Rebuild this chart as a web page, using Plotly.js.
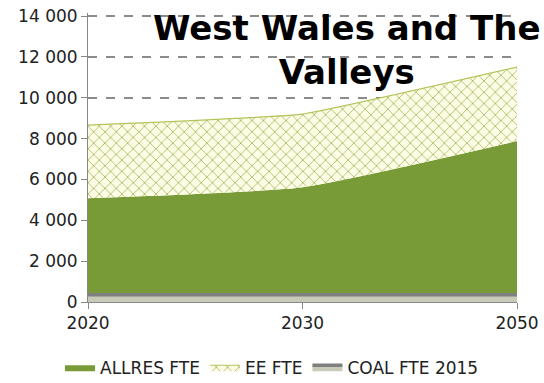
<!DOCTYPE html>
<html><head><meta charset="utf-8">
<script src="https://cdn.plot.ly/plotly-3.0.1.min.js"></script>
<style>html,body{margin:0;padding:0;background:#fff}#chart{width:544px;height:383px}</style>
</head><body><div id="chart"></div>
<script>
const years = ['2020', '2030', '2050'];
const allres = [5080, 5620, 7880];
const ee = [3580, 3580, 3620];
const coal = [350, 350, 350];
const yTicks = [0, 2000, 4000, 6000, 8000, 10000, 12000, 14000];

const font = 'DejaVu Sans, Verdana, sans-serif';
const data = [
  {x: years, y: allres, name: 'ALLRES FTE', type: 'scatter', mode: 'lines', stackgroup: 'a',
   line: {color: '#789b38', width: 0, shape: 'spline', smoothing: 0.5}, fillcolor: '#789b38'},
  {x: years, y: ee, name: 'EE FTE', type: 'scatter', mode: 'lines', stackgroup: 'a',
   line: {color: '#b5c45a', width: 1.2, shape: 'spline', smoothing: 0.3},
   fillcolor: '#fdfde6',
   fillpattern: {shape: 'x', fgcolor: '#a9b765', bgcolor: '#fdfde6', size: 8, solidity: 0.2}},
  {x: years, y: coal, name: 'COAL FTE 2015', type: 'scatter', mode: 'lines', fill: 'tozeroy',
   line: {color: '#7f7f7f', width: 3.5}, fillcolor: '#c9cbb9'}
];
const layout = {
  width: 544, height: 383,
  margin: {l: 88, r: 27, t: 13, b: 81},
  paper_bgcolor: '#ffffff', plot_bgcolor: '#ffffff',
  separators: ', ',
  font: {family: font, size: 16, color: '#222'},
  showlegend: true,
  legend: {orientation: 'h', traceorder: 'normal', xref: 'container', yref: 'container',
           x: 0.5, y: 0.04, xanchor: 'center', yanchor: 'middle',
           font: {family: font, size: 17, color: '#222'}, itemwidth: 30, tracegroupgap: 0},
  xaxis: {type: 'category', range: [0, 2], showgrid: false, showline: true, linecolor: '#888',
          linewidth: 1, ticks: 'outside', ticklen: 6, tickcolor: '#888',
          tickfont: {family: font, size: 17, color: '#222'}, zeroline: false},
  yaxis: {range: [0, 14150], tickvals: yTicks, tickformat: ',d', showgrid: true,
          gridcolor: '#8c8c8c', griddash: 'dash', gridwidth: 2, showline: true,
          linecolor: '#888', linewidth: 1, ticks: 'outside', ticklen: 6, tickcolor: '#888',
          zeroline: false, tickfont: {family: font, size: 17, color: '#222'}},
  annotations: [{text: '<b>West Wales and The<br>Valleys</b>', xref: 'paper', yref: 'paper',
    x: (346 - 88) / 429, y: 1.025, xanchor: 'center', yanchor: 'top', showarrow: false,
    font: {family: 'DejaVu Sans, Verdana, sans-serif', size: 34, color: '#000'}}]
};
Plotly.newPlot('chart', data, layout, {displayModeBar: false, staticPlot: true});
</script></body></html>
